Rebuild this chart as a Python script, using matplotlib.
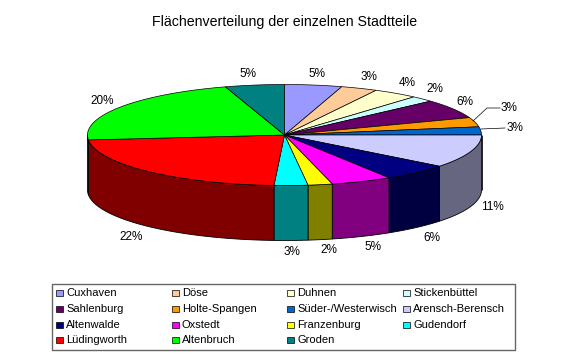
#!/usr/bin/env python3
"""Flaechenverteilung der Stadtteile: 3D-style pie drawn by hand on a pixel axes."""
import matplotlib
matplotlib.use("Agg")
import matplotlib.pyplot as plt
from matplotlib.patches import Polygon, Rectangle
import numpy as np

plt.rcParams["font.family"] = ["Liberation Sans", "DejaVu Sans"]

districts = ["Cuxhaven", "Döse", "Duhnen", "Stickenbüttel",
             "Sahlenburg", "Holte-Spangen", "Süder-/Westerwisch", "Arensch-Berensch",
             "Altenwalde", "Oxstedt", "Franzenburg", "Gudendorf",
             "Lüdingworth", "Altenbruch", "Groden"]
shares = [4.7, 3.0, 3.7, 1.9, 6.1, 3.0, 2.6, 10.6, 5.5, 5.0, 2.0, 2.75, 22.6, 21.7, 4.85]
share_labels = ["5%", "3%", "4%", "2%", "6%", "3%", "3%", "11%",
                "6%", "5%", "2%", "3%", "22%", "20%", "5%"]
top_colors = ["#9999FF", "#FFCC99", "#FFFFCC", "#CCFFFF", "#660066", "#FF9900", "#0066CC", "#CCCCFF",
              "#000080", "#FF00FF", "#FFFF00", "#00FFFF", "#FF0000", "#00FF00", "#008080"]
side_colors = ["#666699", "#997A5C", "#99997A", "#7A9999", "#3D003D", "#995C00", "#003D7A", "#666680",
               "#000040", "#800080", "#808000", "#008080", "#800000", "#009900", "#004040"]

# pie geometry in image pixels
CX, CY, RX, RY, DEPTH = 284.5, 135, 197, 50.5, 55
label_xy = [(317, 74), (369, 77), (407, 83), (435, 89), (465, 102), (509, 108), (515, 128), (492, 207),
            (432, 238), (373, 247), (329, 250), (292, 252), (131, 237), (102, 101), (248, 74)]
leaders = {5: [(473, 121), (487, 108), (500, 108)], 6: [(481, 129), (505, 128)]}
legend_cols = [56, 172, 287, 403]
legend_rows = [293, 309, 325, 340]


def rim(a0, a1, dy=0.0):
    """Points on the ellipse between two angles, clockwise from the top, in degrees."""
    t = np.radians(np.linspace(a0, a1, max(2, int(abs(a1 - a0)) + 2)))
    return np.column_stack([CX + RX * np.sin(t), CY - RY * np.cos(t) + dy])


fig = plt.figure(figsize=(5.7, 3.54), dpi=100)
ax = fig.add_axes([0, 0, 1, 1])
ax.set_xlim(0, 570)
ax.set_ylim(354, 0)
ax.axis("off")

ends = np.cumsum(shares) / np.sum(shares) * 360
starts = np.concatenate([[0], ends[:-1]])

# outer wall, only the part facing the viewer (90..270 degrees)
for a0, a1, col in zip(starts, ends, side_colors):
    lo, hi = max(a0, 90), min(a1, 270)
    if hi <= lo:
        continue
    pts = np.vstack([rim(lo, hi), rim(lo, hi, DEPTH)[::-1]])
    ax.add_patch(Polygon(pts, closed=True, fc=col, ec="black", lw=0.6, zorder=2))

# top face
for a0, a1, col in zip(starts, ends, top_colors):
    pts = np.vstack([[(CX, CY)], rim(a0, a1)])
    ax.add_patch(Polygon(pts, closed=True, fc=col, ec="black", lw=0.5, zorder=3))

for (x, y), txt in zip(label_xy, share_labels):
    ax.text(x, y, txt, ha="center", va="center", fontsize=8.5, color="black", zorder=5)
for line in leaders.values():
    xs, ys = zip(*line)
    ax.plot(xs, ys, color="black", lw=0.5, zorder=4)

ax.text(285, 22, "Flächenverteilung der einzelnen Stadtteile",
        ha="center", va="center", fontsize=10.2, color="black")

# legend box
ax.add_patch(Rectangle((52, 284), 463, 66, fc="white", ec="#666666", lw=1.0, zorder=1))
for i, name in enumerate(districts):
    col_x = legend_cols[i % 4]
    row_y = legend_rows[i // 4]
    ax.add_patch(Rectangle((col_x, row_y - 3.5), 6.5, 6.5, fc=top_colors[i], ec="black", lw=0.5, zorder=2))
    ax.text(col_x + 10, row_y, name, ha="left", va="center", fontsize=8, color="black", zorder=2)

fig.savefig("out.png", dpi=100)
plt.close(fig)
